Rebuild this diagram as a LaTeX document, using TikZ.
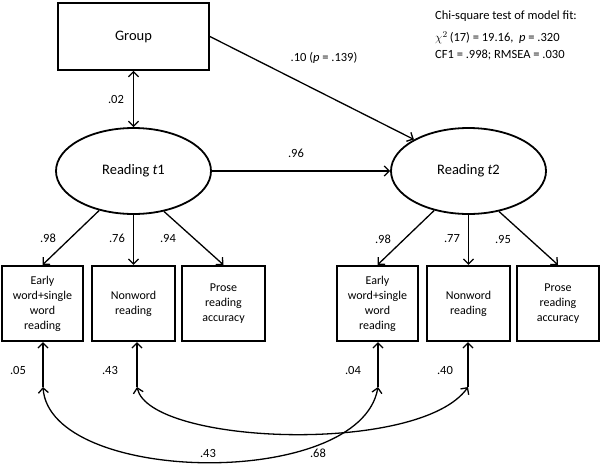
\documentclass[tikz,border=0pt]{standalone}
\usepackage{fontspec}
\setmainfont{Carlito}
\usetikzlibrary{shapes.geometric,arrows.meta}
\newcommand{\nodefont}{\fontsize{14.5}{17}\selectfont}
\newcommand{\boxfont}{\fontsize{12}{15}\selectfont}
\newcommand{\lblfont}{\fontsize{12.5}{15}\selectfont}
\begin{document}
\begin{tikzpicture}[x=1pt,y=-1pt,
  obsbox/.style={draw, line width=2.2pt, minimum height=75pt, inner sep=0pt, align=center, font=\boxfont},
  grpbox/.style={draw, line width=1.8pt, minimum width=151pt, minimum height=67pt, inner sep=0pt, font=\nodefont},
  latent/.style={ellipse, draw, line width=1.8pt, minimum width=155pt, minimum height=86pt, inner sep=0pt, font=\nodefont},
  arr/.style={line width=1.3pt, -{Straight Barb[length=5pt,width=10pt]}},
  darr/.style={line width=1.3pt, {Straight Barb[length=5pt,width=10pt]}-{Straight Barb[length=5pt,width=10pt]}},
  lbl/.style={font=\lblfont, inner sep=0pt},
  fit/.style={font=\lblfont, inner sep=0pt, anchor=west}]
\useasboundingbox (0,0) rectangle (602,463);
\fill[white] (0,0) rectangle (602,463);

\node[grpbox] (group) at (133.5,36.5) {Group};
\node[latent] (r1) at (133.5,171) {Reading \textit{t}1};
\node[latent] (r2) at (468.5,171) {Reading \textit{t}2};

\node[obsbox, minimum width=81pt] (e1) at (42.5,303.5) {Early\\word+single\\word\\reading};
\node[obsbox, minimum width=83pt] (n1) at (133.5,303.5) {Nonword\\reading};
\node[obsbox, minimum width=83pt] (p1) at (223.5,303.5) {Prose\\reading\\accuracy};
\node[obsbox, minimum width=81pt] (e2) at (377.5,303.5) {Early\\word+single\\word\\reading};
\node[obsbox, minimum width=83pt] (n2) at (468.5,303.5) {Nonword\\reading};
\node[obsbox, minimum width=82pt] (p2) at (558,303.5) {Prose\\reading\\accuracy};

\coordinate (c1) at (43,387);
\coordinate (c2) at (137,387);
\coordinate (c3) at (378,387);
\coordinate (c4) at (468,387);

\draw[darr] (group.south) -- (r1.north);
\draw[arr] (group.east) -- (r2.150);
\draw[arr] (r1.east) -- (r2.west);

\draw[arr] (r1.229) -- (e1.north);
\draw[arr] (r1.south) -- (n1.north);
\draw[arr] (r1.307) -- (p1.north);
\draw[arr] (r2.229) -- (e2.north);
\draw[arr] (r2.south) -- (n2.north);
\draw[arr] (r2.307) -- (p2.north);

\draw[arr] (c1) -- (e1.south -| c1);
\draw[arr] (c2) -- (n1.south -| c2);
\draw[arr] (c3) -- (e2.south -| c3);
\draw[arr] (c4) -- (n2.south -| c4);

\draw[darr] (c1) .. controls (50,485) and (360,490) .. (c3);
\draw[darr] (c2) .. controls (150,445) and (420,455) .. (c4);

\node[lbl] (l02) at (116,99) {.02};
\node[lbl] (l10) at (324,58) {.10 (\textit{p} = .139)};
\node[lbl] (l96) at (296,153) {.96};
\node[lbl] (la1) at (48,238) {.98};
\node[lbl] (lb1) at (117,238) {.76};
\node[lbl] (lc1) at (168,238) {.94};
\node[lbl] (la2) at (383,239) {.98};
\node[lbl] (lb2) at (452,239) {.77};
\node[lbl] (lc2) at (503,239) {.95};
\node[lbl] (ld1) at (18,370) {.05};
\node[lbl] (le1) at (110,370) {.43};
\node[lbl] (ld2) at (353,370) {.04};
\node[lbl] (le2) at (445,370) {.40};
\node[lbl] (lf) at (208,453) {.43};
\node[lbl] (lg) at (318,453) {.68};

\node[fit] (fit1) at (435,16) {Chi-square test of model fit:};
\node[fit] (fit2) at (435,38) {$\chi^2$\,(17) = 19.16,\ \ \textit{p} = .320};
\node[fit] (fit3) at (435,55) {CF1 = .998; RMSEA = .030};
\end{tikzpicture}
\end{document}
